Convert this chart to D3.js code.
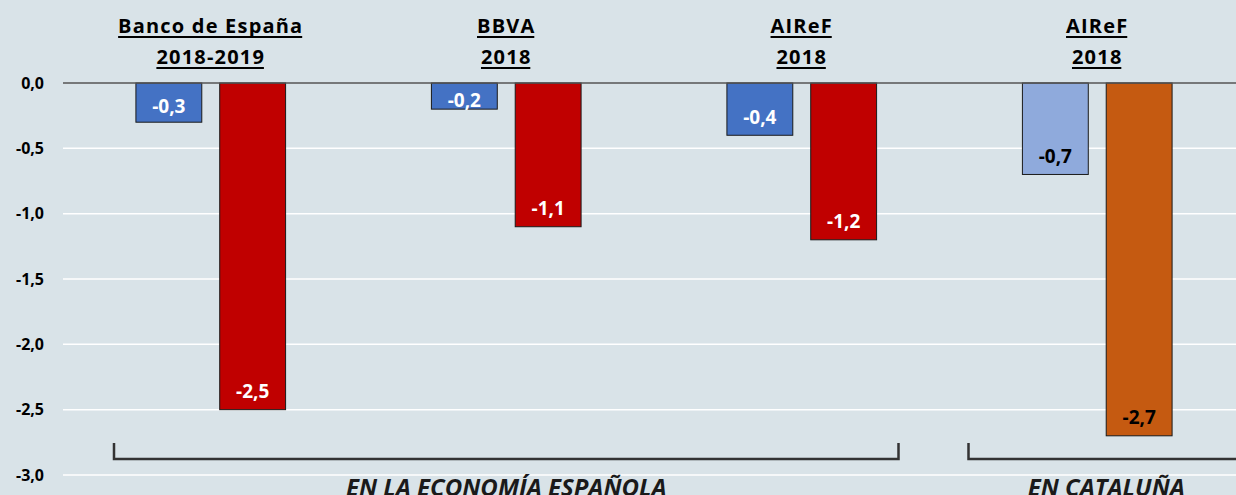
<!DOCTYPE html>
<html>
<head>
<meta charset="utf-8">
<script src="https://cdn.jsdelivr.net/npm/d3@7"></script>
<style>
  body { margin: 0; background: #d9e3e8; }
  svg { display: block; font-family: "Open Sans", sans-serif; }
</style>
</head>
<body>
<script>
// data
var headLine1 = ["Banco de España", "BBVA", "AIReF", "AIReF"];
var headLine2 = ["2018-2019", "2018", "2018", "2018"];
var seriesA = [-0.3, -0.2, -0.4, -0.7];
var seriesB = [-2.5, -1.1, -1.2, -2.7];
var yTicks = [0, -0.5, -1, -1.5, -2, -2.5, -3];
var regionNames = ["EN LA ECONOMÍA ESPAÑOLA", "EN CATALUÑA"];
var regionFrom = [0, 3];
var regionTo = [2, 3];

var colorA = ["#4472c4", "#4472c4", "#4472c4", "#8faadc"];
var colorB = ["#c00000", "#c00000", "#c00000", "#c55a11"];
var labelColor = ["#fff", "#fff", "#fff", "#000"];

var width = 1236, height = 495;

var svg = d3.select("body")
            .append("svg")
               .attr("width", width)
               .attr("height", height);

svg.append("rect")
   .attr("width", width)
   .attr("height", height)
   .attr("fill", "#d9e3e8");

var idx = d3.range(headLine1.length);

var x0 = d3.scaleBand()
         .domain(idx)
         .range([63, 1245]);

var x1 = d3.scaleBand()
         .domain(["a", "b"])
         .range([0, x0.bandwidth()])
         .paddingInner(0.214)
         .paddingOuter(0.87);

var y = d3.scaleLinear()
         .domain([-3, 0])
         .range([475, 83]);

var fmt = function(d) { return d3.format(".1f")(d).replace(".", ",").replace("−", "-"); };

// gridlines
svg.append("g")
   .selectAll("line")
   .data(yTicks.filter(function(d) { return d !== 0; }))
   .enter().append("line")
      .attr("x1", 63)
      .attr("x2", width)
      .attr("y1", function(d) { return y(d); })
      .attr("y2", function(d) { return y(d); })
      .attr("stroke", "#fff")
      .attr("stroke-width", 1.5);

// y axis labels
var yAxis = d3.axisLeft(y)
         .tickValues(yTicks)
         .tickSize(0)
         .tickPadding(19)
         .tickFormat(fmt);

var ya = svg.append("g")
   .attr("transform", "translate(63,0)")
   .call(yAxis);
ya.select(".domain").remove();
ya.selectAll("text")
   .style("font-family", "Open Sans")
   .style("font-size", "16px")
   .style("font-weight", "bold")
   .attr("fill", "#000");

// bars
var bars = [];
idx.forEach(function(i) {
   bars.push({ g: i, s: "a", v: seriesA[i], c: colorA[i] });
   bars.push({ g: i, s: "b", v: seriesB[i], c: colorB[i] });
});

svg.append("g")
   .selectAll("rect")
   .data(bars)
   .enter().append("rect")
      .attr("x", function(d) { return x0(d.g) + x1(d.s); })
      .attr("width", x1.bandwidth())
      .attr("y", y(0))
      .attr("height", function(d) { return y(d.v) - y(0); })
      .attr("fill", function(d) { return d.c; })
      .attr("stroke", "#1a1a1a")
      .attr("stroke-width", 1);

// zero line
svg.append("line")
   .attr("x1", 63).attr("x2", width)
   .attr("y1", y(0)).attr("y2", y(0))
   .attr("stroke", "#555")
   .attr("stroke-width", 1.5);

// value labels
svg.append("g")
   .selectAll("text")
   .data(bars)
   .enter().append("text")
      .attr("x", function(d) { return x0(d.g) + x1(d.s) + x1.bandwidth() / 2; })
      .attr("y", function(d) {
         var bot = y(d.v);
         return Math.max(bot - 18, (bot + y(0)) / 2 + 4);
      })
      .attr("dy", "0.35em")
      .attr("text-anchor", "middle")
      .attr("font-size", 19)
      .attr("font-weight", "bold")
      .attr("fill", function(d) { return labelColor[d.g]; })
      .text(function(d) { return fmt(d.v); });

// headers
var heads = svg.append("g")
   .selectAll("g")
   .data(idx)
   .enter().append("g");

heads.append("text")
   .attr("x", function(d) { return x0(d) + x0.bandwidth() / 2; })
   .attr("y", 33)
   .text(function(d) { return headLine1[d]; });
heads.append("text")
   .attr("x", function(d) { return x0(d) + x0.bandwidth() / 2; })
   .attr("y", 64)
   .text(function(d) { return headLine2[d]; });
heads.selectAll("text")
   .attr("text-anchor", "middle")
   .attr("font-size", 20)
   .attr("font-weight", "bold")
   .attr("letter-spacing", 1.2)
   .attr("fill", "#000")
   .each(function() {
      var b = this.getBBox();
      var ty = +d3.select(this).attr("y");
      d3.select(this.parentNode).append("line")
         .attr("x1", b.x).attr("x2", b.x + b.width - 1.2)
         .attr("y1", ty + 4)
         .attr("y2", ty + 4)
         .attr("stroke", "#000")
         .attr("stroke-width", 2);
   });

// region brackets
var regions = d3.range(regionNames.length);
var bx1 = [51, 19];
var bx2 = [-51, 40];
var brk = svg.append("g")
   .selectAll("g")
   .data(regions)
   .enter().append("g");

brk.append("path")
   .attr("d", function(r) {
      var a = x0(regionFrom[r]) + bx1[r];
      var b = x0(regionTo[r]) + x0.bandwidth() + bx2[r];
      return "M" + a + ",443V459H" + b + "V443";
   })
   .attr("fill", "none")
   .attr("stroke", "#333")
   .attr("stroke-width", 2.5);

brk.append("text")
   .attr("x", function(r) {
      return (x0(regionFrom[r]) + x0(regionTo[r]) + x0.bandwidth()) / 2 + (r === 1 ? 9 : 0);
   })
   .attr("y", 496)
   .attr("text-anchor", "middle")
   .attr("font-size", 24)
   .attr("font-weight", "bold")
   .attr("font-style", "italic")
   .attr("fill", "#1a1a1a")
   .text(function(r) { return regionNames[r]; });
</script>
</body>
</html>
